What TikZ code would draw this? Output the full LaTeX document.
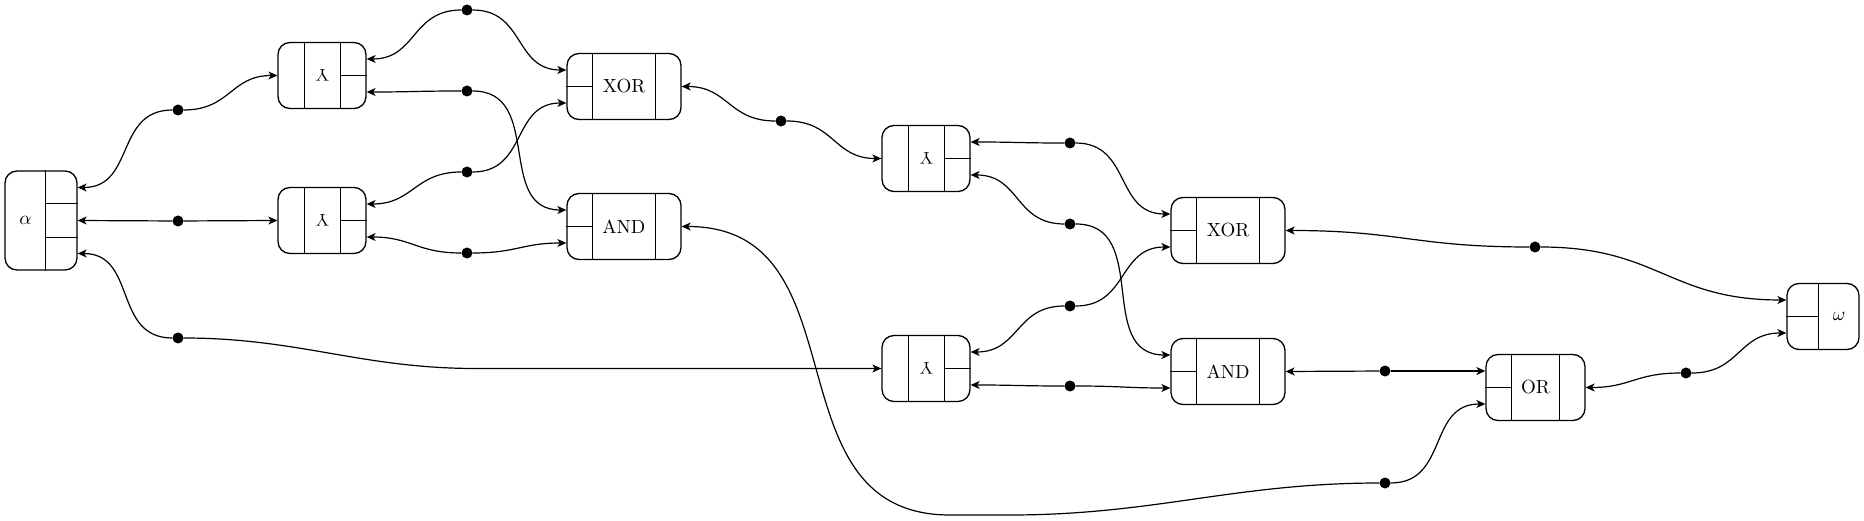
\documentclass[tikz,border=0pt]{standalone}
\usepackage{fontspec}
\usepackage{graphicx}
\usetikzlibrary{arrows.meta,calc}
\tikzset{
  box/.style={draw, line width=1.3pt, rounded corners=12pt, rectangle, inner sep=0pt},
  div/.style={line width=1.2pt},
  dot/.style={circle, fill=black, inner sep=0pt, minimum size=11pt},
  wire/.style={line width=1.2pt, -{Stealth[length=9pt,width=8pt,inset=2.5pt]}},
  lbl/.style={inner sep=0pt, font=\fontsize{10}{12}\selectfont},
  toL/.style={out=180, in=0, looseness=1.2},
  toR/.style={out=0, in=180, looseness=1.2}
}
\newcommand{\lb}[1]{\scalebox{1.9}{#1}}
\newcommand{\rlam}{\rotatebox[origin=c]{180}{\scalebox{1.7}{Y}}}
\begin{document}
\begin{tikzpicture}[x=1pt, y=-1pt]
\useasboundingbox (0,0) rectangle (1864,521);

% ---- alpha ----
\node[box, minimum width=72pt, minimum height=99pt] (AL) at (41,220.5) {};
\draw[div] ([xshift=41pt]AL.north west) -- ([xshift=41pt]AL.south west);
\draw[div] ([xshift=41pt,yshift=-33pt]AL.north west) -- ([yshift=-33pt]AL.north east);
\draw[div] ([xshift=41pt,yshift=33pt]AL.south west) -- ([yshift=33pt]AL.south east);
\node[lbl] (ALt) at (25.5,220.5) {\lb{$\alpha$}};
\coordinate (AL1) at ([yshift=33pt]AL.east);
\coordinate (AL2) at (AL.east);
\coordinate (AL3) at ([yshift=-33pt]AL.east);

% ---- copy nodes ----
\foreach \n/\x/\y in {A1/322/75.5, A2/322/220.5, A3/926/158.5, A4/926/368.5}{
  \node[box, minimum width=88pt, minimum height=66pt] (\n) at (\x,\y) {};
  \draw[div] ([xshift=27pt]\n.north west) -- ([xshift=27pt]\n.south west);
  \draw[div] ([xshift=-26pt]\n.north east) -- ([xshift=-26pt]\n.south east);
  \draw[div] ([xshift=-26pt]\n.east) -- (\n.east);
  \node[lbl] (\n t) at ([xshift=0.5pt]\n.center) {\rlam};
  \coordinate (\n in) at (\n.west);
  \coordinate (\n o1) at ([yshift=16.5pt]\n.east);
  \coordinate (\n o2) at ([yshift=-16.5pt]\n.east);
}

% ---- binary gates ----
\foreach \n/\x/\y/\w/\t in {X1/624/86.5/114/XOR, N1/624/226.5/114/AND, X2/1228/230.5/114/XOR, N2/1228/371.5/114/AND, OG/1535.5/387.5/99/OR}{
  \node[box, minimum width=\w pt, minimum height=66pt] (\n) at (\x,\y) {};
  \draw[div] ([xshift=26pt]\n.north west) -- ([xshift=26pt]\n.south west);
  \draw[div] ([xshift=-26pt]\n.north east) -- ([xshift=-26pt]\n.south east);
  \draw[div] (\n.west) -- ([xshift=26pt]\n.west);
  \node[lbl] (\n t) at (\n.center) {\lb{\t}};
  \coordinate (\n i1) at ([yshift=16.5pt]\n.west);
  \coordinate (\n i2) at ([yshift=-16.5pt]\n.west);
  \coordinate (\n o) at (\n.east);
}

% ---- omega ----
\node[box, minimum width=72pt, minimum height=66pt] (OM) at (1823,316.5) {};
\draw[div] ([xshift=32pt]OM.north west) -- ([xshift=32pt]OM.south west);
\draw[div] (OM.west) -- ([xshift=32pt]OM.west);
\node[lbl] (OMt) at (1839,316.5) {\lb{$\omega$}};
\coordinate (OMi1) at ([yshift=16.5pt]OM.west);
\coordinate (OMi2) at ([yshift=-16.5pt]OM.west);

% ---- hyperedge dots ----
\node[dot] (d1) at (178,110) {};
\node[dot] (d2) at (178,221) {};
\node[dot] (d3) at (178,338) {};
\node[dot] (d4) at (467,10) {};
\node[dot] (d5) at (467,91) {};
\node[dot] (d6) at (467,172) {};
\node[dot] (d7) at (467,253) {};
\node[dot] (d8) at (781,121) {};
\node[dot] (d9) at (1070,143) {};
\node[dot] (d10) at (1070,224) {};
\node[dot] (d11) at (1070,306) {};
\node[dot] (d12) at (1070,386) {};
\node[dot] (d13) at (1535,247) {};
\node[dot] (d14) at (1385,371) {};
\node[dot] (d15) at (1385,483) {};
\node[dot] (d16) at (1686,373) {};

\coordinate (w1) at (476,368.5);
\coordinate (w2) at (950,515);
\coordinate (w3) at (1010,515);

% ---- wires ----
\draw[wire] (d1) to[toL] (AL1);
\draw[wire] (d1) to[toR] (A1in);
\draw[wire] (d2) -- (AL2);
\draw[wire] (d2) -- (A2in);
\draw[wire] (d3) to[toL] (AL3);
\draw[wire] (d3) to[out=0,in=180,looseness=1] (w1) -- (A4in);

\draw[wire] (d4) to[toL] (A1o1);
\draw[wire] (d4) to[toR] (X1i1);
\draw[wire] (d5) to[toL] (A1o2);
\draw[wire] (d5) to[toR] (N1i1);
\draw[wire] (d6) to[toL] (A2o1);
\draw[wire] (d6) to[toR] (X1i2);
\draw[wire] (d7) to[toL] (A2o2);
\draw[wire] (d7) to[toR] (N1i2);

\draw[wire] (d8) to[toL] (X1o);
\draw[wire] (d8) to[toR] (A3in);

\draw[wire] (d9) to[toL] (A3o1);
\draw[wire] (d9) to[toR] (X2i1);
\draw[wire] (d10) to[toL] (A3o2);
\draw[wire] (d10) to[toR] (N2i1);
\draw[wire] (d11) to[toL] (A4o1);
\draw[wire] (d11) to[toR] (X2i2);
\draw[wire] (d12) to[toL] (A4o2);
\draw[wire] (d12) to[toR] (N2i2);

\draw[wire] (d13) to[toL] (X2o);
\draw[wire] (d13) to[toR] (OMi1);
\draw[wire] (d14) -- (N2o);
\draw[wire] (d14) -- (OGi1);
\draw[wire] (d15) to[toR] (OGi2);
\draw[wire] (d15) to[out=180,in=0,looseness=1] (w3) -- (w2) to[out=180,in=0,looseness=1.2] (N1o);
\draw[wire] (d16) to[toL] (OGo);
\draw[wire] (d16) to[toR] (OMi2);
\end{tikzpicture}
\end{document}
